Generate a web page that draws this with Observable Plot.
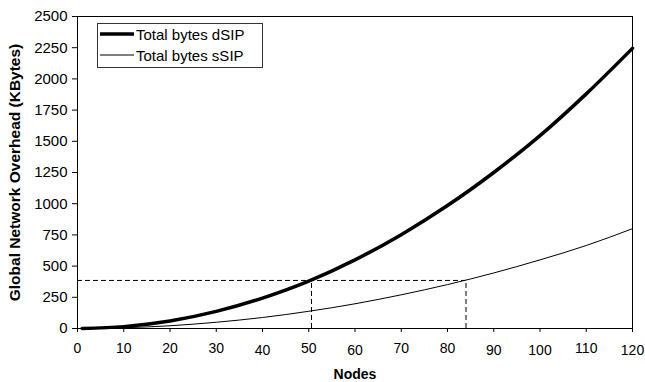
<!DOCTYPE html>
<html>
<head>
<meta charset="utf-8">
<script src="https://cdn.jsdelivr.net/npm/d3@7"></script>
<script src="https://cdn.jsdelivr.net/npm/@observablehq/plot@0.6"></script>
<style>
  html, body { margin: 0; padding: 0; background: #fff; }
  #wrap { position: relative; width: 645px; height: 382px; font-family: "Liberation Sans", Arial, sans-serif; color: #000; }
  #legend { position: absolute; left: 97px; top: 23px; width: 166px; height: 45px; border: 1px solid #333; background: #fff; box-sizing: border-box; }
  .row { position: absolute; left: 2px; height: 20px; display: flex; align-items: center; font-size: 15px; white-space: nowrap; }
  .row svg { width: 34px; height: 8px; margin-right: 2px; }
</style>
</head>
<body>
<div id="wrap"></div>
<script>
// Data
const nodes = [1, 10, 20, 30, 40, 50, 60, 70, 80, 90, 100, 110, 120];
const dsipBytes = [0.2, 15, 60, 137, 244, 380, 550, 752, 985, 1250, 1545, 1880, 2245];
const ssipBytes = [0.1, 6, 22, 50, 88, 138, 198, 270, 352, 445, 550, 665, 800];
const seriesNames = ["Total bytes dSIP", "Total bytes sSIP"];
const refLevel = 385;
const refNodes = [50.6, 84];
const xTicks = [0, 10, 20, 30, 40, 50, 60, 70, 80, 90, 100, 110, 120];
const xTicksLow = [40, 60, 90, 100, 120];
const yTicks = [0, 250, 500, 750, 1000, 1250, 1500, 1750, 2000, 2250, 2500];
const xTitle = "Nodes";
const yTitle = "Global Network Overhead (KBytes)";

const dsip = nodes.map((n, i) => ({n, v: dsipBytes[i]}));
const ssip = nodes.map((n, i) => ({n, v: ssipBytes[i]}));
const fmt = d3.format("d");

const chart = Plot.plot({
  width: 645,
  height: 382,
  marginLeft: 77,
  marginRight: 13,
  marginTop: 16,
  marginBottom: 54,
  style: {fontFamily: "Liberation Sans, Arial, sans-serif", color: "#000", background: "#fff"},
  x: {domain: [0, 120]},
  y: {domain: [0, 2500]},
  marks: [
    Plot.ruleY([refLevel], {x1: 0, x2: refNodes[1], stroke: "#000", strokeWidth: 1, strokeDasharray: "5,3"}),
    Plot.ruleX(refNodes, {y1: 0, y2: refLevel, stroke: "#000", strokeWidth: 1, strokeDasharray: "5,3"}),
    Plot.line(ssip, {x: "n", y: "v", stroke: "#000", strokeWidth: 1, curve: "monotone-x"}),
    Plot.line(dsip, {x: "n", y: "v", stroke: "#000", strokeWidth: 3.5, curve: "monotone-x"}),
    Plot.frame({stroke: "#000", strokeWidth: 1}),
    Plot.axisY(yTicks, {tickSize: 5, tickPadding: 5, fontSize: 15, label: null, stroke: "#000", tickFormat: fmt}),
    Plot.axisX(xTicks, {tickSize: 4, text: null, label: null, stroke: "#000"}),
    Plot.axisX(xTicks.filter(t => !xTicksLow.includes(t)), {tickSize: 0, tickPadding: 15, fontSize: 14, label: null, tickFormat: fmt}),
    Plot.axisX(xTicksLow, {tickSize: 0, tickPadding: 16.5, fontSize: 14, label: null, tickFormat: fmt}),
    Plot.text([xTitle], {frameAnchor: "bottom", lineAnchor: "middle", dy: 46, fontSize: 14, fontWeight: "bold", fill: "#000"}),
    Plot.text([yTitle], {frameAnchor: "left", textAnchor: "middle", lineAnchor: "middle", dx: -62, rotate: -90, fontSize: 15.5, fontWeight: "bold", fill: "#000"})
  ]
});

const wrap = document.getElementById("wrap");
wrap.appendChild(chart);

const legend = document.createElement("div");
legend.id = "legend";
seriesNames.forEach((name, i) => {
  const row = document.createElement("div");
  row.className = "row";
  row.style.top = (i === 0 ? 0 : 21) + "px";
  const w = i === 0 ? 3.5 : 1;
  row.innerHTML = `<svg viewBox="0 0 34 8"><line x1="0" y1="4" x2="34" y2="4" stroke="#000" stroke-width="${w}"/></svg><span>${name}</span>`;
  legend.appendChild(row);
});
wrap.appendChild(legend);
</script>
</body>
</html>
